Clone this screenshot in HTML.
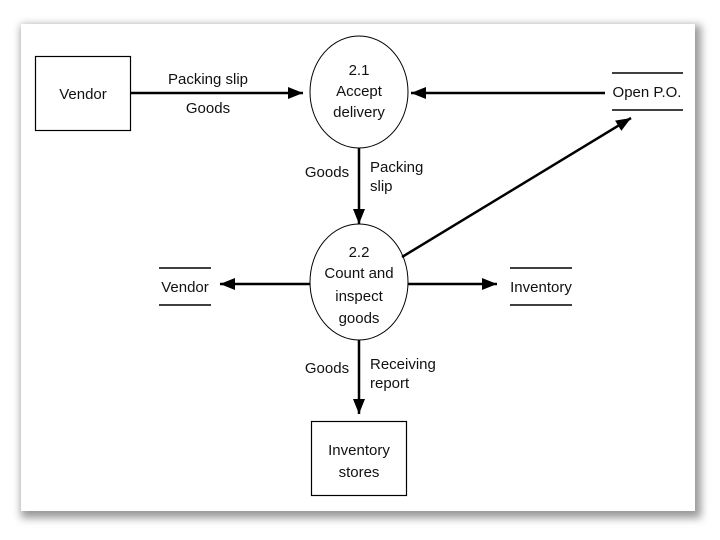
<!DOCTYPE html>
<html><head><style>
html,body{margin:0;padding:0;background:#fff;width:720px;height:540px;overflow:hidden}
.card{position:absolute;left:21px;top:24px;width:674px;height:487px;background:#fff;box-shadow:3px 4px 8px 3px rgba(0,0,0,0.4)}
svg{position:absolute;left:0;top:0}
text{font-family:"Liberation Sans",sans-serif;font-size:15px;fill:#111}
</style></head><body>
<div class="card"></div>
<svg width="720" height="540" viewBox="0 0 720 540">
<defs><marker id="a" viewBox="0 0 10 10" refX="10" refY="5" markerWidth="6" markerHeight="6" orient="auto"><path d="M0,1 L10,5 L0,9 Z" fill="#000"/></marker></defs>
<g stroke="#000" fill="none">
<rect x="35.5" y="56.5" width="95" height="74" stroke-width="1.2"/>
<rect x="311.5" y="421.5" width="95" height="74" stroke-width="1.2"/>
<ellipse cx="359" cy="92" rx="49" ry="56" stroke-width="1"/>
<ellipse cx="359" cy="282" rx="49" ry="58" stroke-width="1"/>
<g stroke-width="2.5" marker-end="url(#a)">
<line x1="130" y1="93" x2="303" y2="93"/>
<line x1="605" y1="93" x2="411" y2="93"/>
<line x1="359" y1="148" x2="359" y2="224"/>
<line x1="402" y1="257" x2="631" y2="118"/>
<line x1="408" y1="284" x2="497" y2="284"/>
<line x1="310" y1="284" x2="220" y2="284"/>
<line x1="359" y1="340" x2="359" y2="414"/>
</g>
<g stroke-width="1.5">
<line x1="612" y1="73" x2="683" y2="73"/><line x1="612" y1="110" x2="683" y2="110"/>
<line x1="510" y1="268" x2="572" y2="268"/><line x1="510" y1="305" x2="572" y2="305"/>
<line x1="159" y1="268" x2="211" y2="268"/><line x1="159" y1="305" x2="211" y2="305"/>
</g>
</g>
<g text-anchor="middle">
<text x="83" y="99">Vendor</text>
<text x="208" y="84">Packing slip</text>
<text x="208" y="113">Goods</text>
<text x="359" y="75">2.1</text>
<text x="359" y="96">Accept</text>
<text x="359" y="117">delivery</text>
<text x="359" y="257">2.2</text>
<text x="359" y="278">Count and</text>
<text x="359" y="301">inspect</text>
<text x="359" y="323">goods</text>
<text x="647" y="97">Open P.O.</text>
<text x="541" y="292">Inventory</text>
<text x="185" y="292">Vendor</text>
<text x="359" y="455">Inventory</text>
<text x="359" y="477">stores</text>
<text x="327" y="177">Goods</text>
<text x="327" y="373">Goods</text>
</g>
<text x="370" y="172">Packing</text>
<text x="370" y="191">slip</text>
<text x="370" y="369">Receiving</text>
<text x="370" y="388">report</text>
</svg>
</body></html>
